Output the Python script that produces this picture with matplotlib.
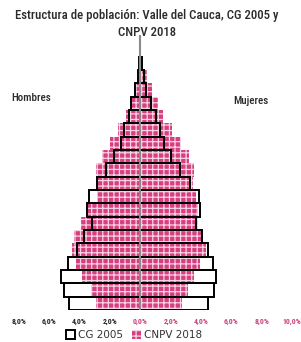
import matplotlib
matplotlib.use("Agg")
import matplotlib.pyplot as plt
from matplotlib import font_manager
from matplotlib.patches import Patch
import numpy as np

names = sorted({f.name for f in font_manager.fontManager.ttflist})
cond = "DejaVu Sans"
for cand in ["Liberation Sans Narrow", "Roboto Condensed", "Open Sans Condensed",
             "Noto Sans Condensed", "DejaVu Sans Condensed", "Roboto Slab"]:
    if cand in names:
        cond = cand
        break
else:
    for n in names:
        if "condensed" in n.lower() or "narrow" in n.lower():
            cond = n
            break

ages = ["0-4", "5-9", "10-14", "15-19", "20-24", "25-29", "30-34", "35-39", "40-44",
        "45-49", "50-54", "55-59", "60-64", "65-69", "70-74", "75-79", "80-84", "85-89", "90+"]
cg2005_h = [4.70, 5.00, 5.20, 4.76, 4.17, 3.71, 3.18, 3.49, 3.38, 2.83, 2.28, 1.74, 1.30, 1.06, 0.77, 0.62, 0.35, 0.18, 0.09]
cg2005_m = [4.49, 4.84, 5.02, 4.80, 4.45, 4.08, 3.68, 3.95, 3.84, 3.27, 2.61, 2.04, 1.55, 1.27, 1.01, 0.72, 0.39, 0.24, 0.10]
cnpv2018_h = [2.94, 3.25, 3.84, 4.21, 4.50, 4.37, 3.88, 3.58, 2.85, 2.88, 2.90, 2.53, 1.98, 1.47, 0.97, 0.66, 0.40, 0.22, 0.10]
cnpv2018_m = [2.76, 3.13, 3.51, 3.95, 4.30, 4.16, 3.79, 3.79, 3.68, 3.46, 3.57, 3.20, 2.70, 2.08, 1.49, 1.16, 0.79, 0.46, 0.20]
tick_vals = [-8, -6, -4, -2, 0, 2, 4, 6, 8, 10]
tick_labels = ["8,0%", "6,0%", "4,0%", "2,0%", "0,0%", "2,0%", "4,0%", "6,0%", "8,0%", "10,0%"]

pink = "#d63f80"
plt.rcParams['hatch.linewidth'] = 0.9

fig = plt.figure(figsize=(3.01, 3.42), dpi=100)
ax = fig.add_axes([19/301, 1-310/342, 273/301, 275/342])
y = np.arange(len(ages))
h = 1.0
ch = -np.array(cg2005_h); cm = np.array(cg2005_m)
nh = -np.array(cnpv2018_h); nm = np.array(cnpv2018_m)

ax.barh(y, ch, height=h, color="white", edgecolor="none", zorder=1)
ax.barh(y, cm, height=h, color="white", edgecolor="none", zorder=1)
ax.barh(y, nh, height=h, color=pink, edgecolor="#f7d3e3", linewidth=0, hatch="+++", zorder=2)
ax.barh(y, nm, height=h, color=pink, edgecolor="#f7d3e3", linewidth=0, hatch="+++", zorder=2)
ax.barh(y, ch, height=h, fill=False, edgecolor="black", linewidth=1.4, zorder=3)
ax.barh(y, cm, height=h, fill=False, edgecolor="black", linewidth=1.4, zorder=3)
ax.axvline(0, color="#8a8a8a", linewidth=1.5, zorder=4)

ax.set_xlim(-8, 10)
ax.set_ylim(-0.5, -0.5 + 275/13.33)
for s in ax.spines.values():
    s.set_visible(False)
ax.set_yticks([])
ax.set_xticks(tick_vals)
ax.set_xticklabels(tick_labels, fontsize=5, fontweight="bold", family=cond)
for lab, v in zip(ax.get_xticklabels(), tick_vals):
    lab.set_color("#222222" if v < 0 else "#c8417a")
ax.tick_params(axis="x", length=0, pad=6)

t1 = fig.text(147/301, 1-16/342, "Estructura de población: Valle del Cauca, CG 2005 y",
              ha="center", va="center", fontsize=10.5, family=cond, color="#2b2b2b", fontweight="medium")
t2 = fig.text(147/301, 1-33/342, "CNPV 2018",
              ha="center", va="center", fontsize=10.5, family=cond, color="#2b2b2b", fontweight="medium")
t3 = fig.text(31/301, 1-98/342, "Hombres", ha="center", va="center", fontsize=8, family=cond,
              color="#2b2b2b", fontweight="medium")
t4 = fig.text(251/301, 1-101/342, "Mujeres", ha="center", va="center", fontsize=8, family=cond,
              color="#2b2b2b", fontweight="medium")

handles = [Patch(facecolor="white", edgecolor="black", linewidth=1.4, label="CG 2005"),
           Patch(facecolor=pink, edgecolor="#f7d3e3", linewidth=0, hatch="+++", label="CNPV 2018")]
leg = fig.legend(handles=handles, loc="center", bbox_to_anchor=(134/301, 1-335/342), ncol=2,
                 frameon=False, fontsize=7.5, handlelength=0.9, handleheight=0.9,
                 handletextpad=0.3, columnspacing=0.8, borderpad=0)
for t in leg.get_texts():
    t.set_color("#333333")

def fit(t, target):
    fig.canvas.draw()
    w = t.get_window_extent().width
    t.set_fontsize(t.get_fontsize() * target / w)

fit(t1, 264)
t2.set_fontsize(t1.get_fontsize())
fit(t3, 40)
fit(t4, 35)
fig.canvas.draw()
labs = ax.get_xticklabels()
w8 = labs[0].get_window_extent().width
fs = 5 * 15 / w8
for lab in labs:
    lab.set_fontsize(fs)

fig.savefig("out.png", dpi=100)
